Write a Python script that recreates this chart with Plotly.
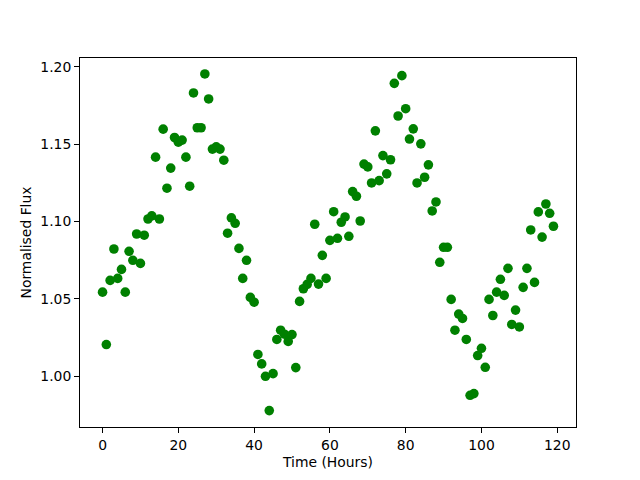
import plotly.graph_objects as go

hours = list(range(120))
flux = [
    1.0544, 1.0205, 1.0620, 1.0823, 1.0633, 1.0691, 1.0544, 1.0808, 1.0750, 1.0920,
    1.0730, 1.0912, 1.1017, 1.1037, 1.1417, 1.1017, 1.1598, 1.1216, 1.1346, 1.1544,
    1.1514, 1.1527, 1.1417, 1.1229, 1.1832, 1.1607, 1.1607, 1.1955, 1.1793, 1.1469,
    1.1484, 1.1469, 1.1397, 1.0925, 1.1024, 1.0989, 1.0827, 1.0633, 1.0750, 1.0510,
    1.0479, 1.0141, 1.0080, 1.0000, 0.9778, 1.0017, 1.0238, 1.0298, 1.0272, 1.0225,
    1.0270, 1.0056, 1.0484, 1.0566, 1.0594, 1.0633, 1.0983, 1.0596, 1.0782, 1.0633,
    1.0879, 1.1064, 1.0892, 1.0996, 1.1030, 1.0905, 1.1194, 1.1164, 1.1004, 1.1372,
    1.1354, 1.1250, 1.1587, 1.1265, 1.1427, 1.1309, 1.1400, 1.1894, 1.1683, 1.1944,
    1.1730, 1.1534, 1.1600, 1.1250, 1.1503, 1.1287, 1.1367, 1.1069, 1.1127, 1.0737,
    1.0834, 1.0834, 1.0497, 1.0298, 1.0402, 1.0374, 1.0238, 0.9877, 0.9888, 1.0134,
    1.0181, 1.0058, 1.0497, 1.0393, 1.0544, 1.0627, 1.0523, 1.0698, 1.0335, 1.0428,
    1.0319, 1.0575, 1.0698, 1.0946, 1.0607, 1.1063, 1.0900, 1.1114, 1.1054, 1.0970,
]
x_ticks = [0, 20, 40, 60, 80, 100, 120]
y_ticks = [1.00, 1.05, 1.10, 1.15, 1.20]

fig = go.Figure(
    go.Scatter(
        x=hours, y=flux, mode="markers",
        marker=dict(color="#008000", size=9.6, line=dict(width=0)),
    )
)

font = dict(family="DejaVu Sans", size=13.9, color="black")
axis_common = dict(
    showgrid=False, zeroline=False, showline=True, mirror=True,
    linecolor="black", linewidth=1.1, ticks="outside", ticklen=4.9,
    tickwidth=1.1, tickcolor="black", tickfont=font,
)
# The page body has an 8px margin, so the figure is shrunk and offset to compensate.
fig.update_layout(
    width=632, height=472,
    margin=dict(l=72, r=64, t=50, b=53, pad=0),
    paper_bgcolor="white", plot_bgcolor="white",
    font=font, showlegend=False,
    xaxis=dict(
        range=[-5.95, 124.95], tickvals=x_ticks,
        ticktext=[str(v) for v in x_ticks],
        title=dict(text="Time (Hours)", font=font, standoff=5),
        automargin=False, **axis_common,
    ),
    yaxis=dict(
        range=[0.9672, 1.2058], tickvals=y_ticks,
        ticktext=[f"{v:.2f}" for v in y_ticks],
        title=dict(text="Normalised Flux", font=font, standoff=5),
        automargin=False, **axis_common,
    ),
)

fig.write_html("out.html")
